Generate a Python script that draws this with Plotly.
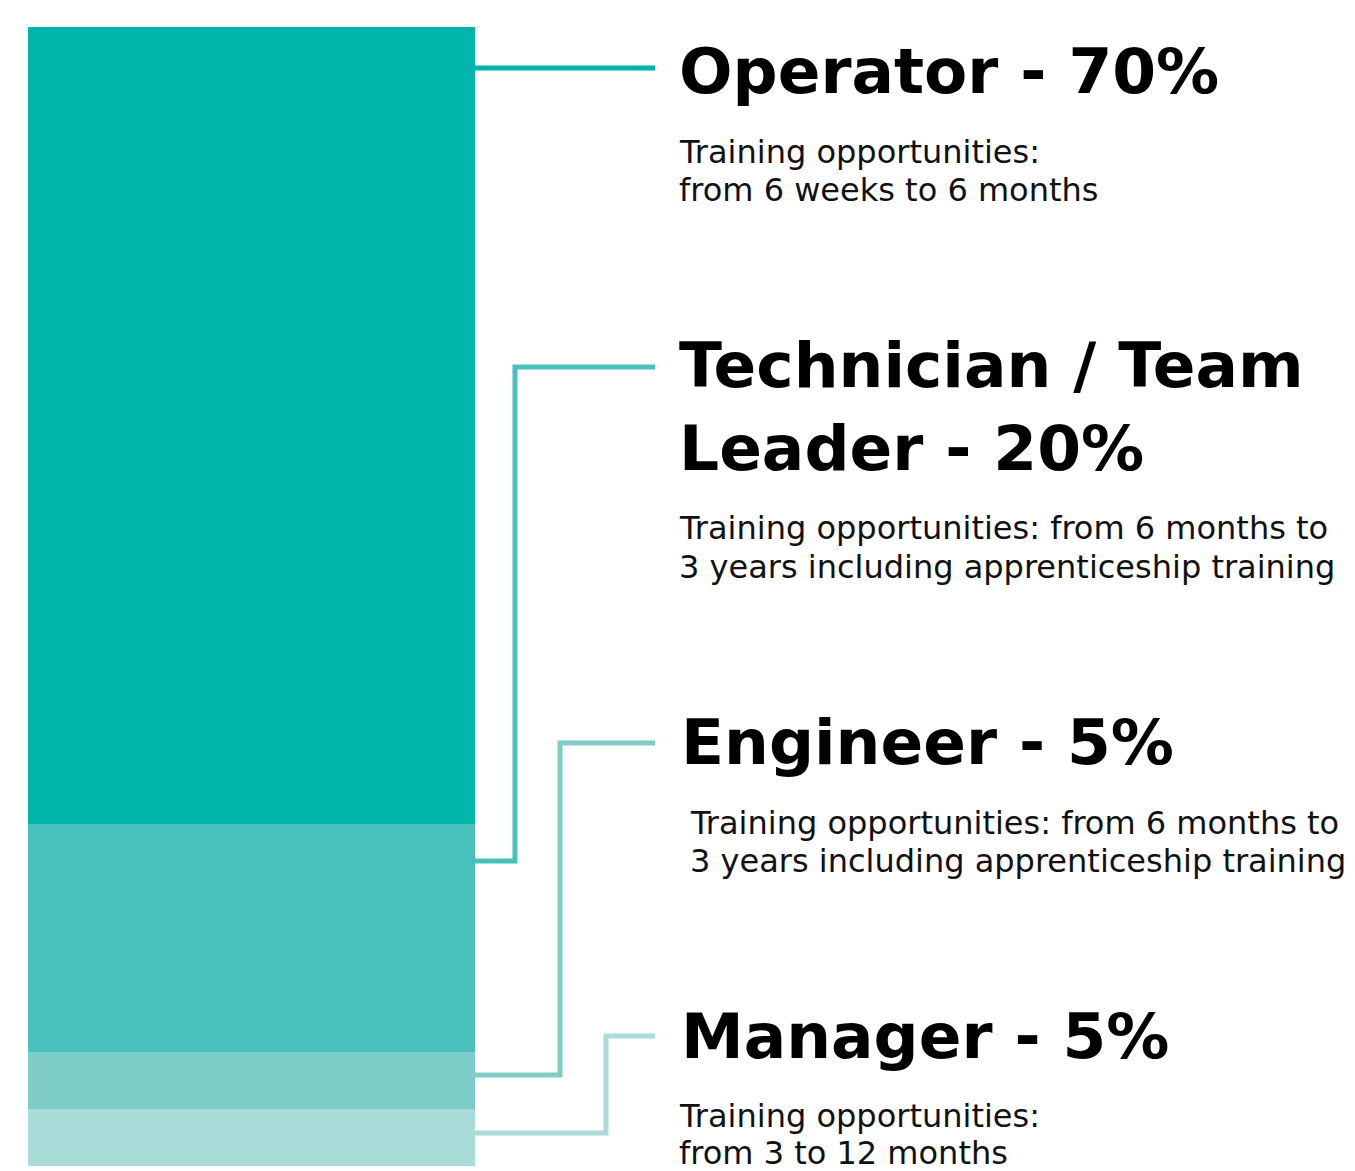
import plotly.graph_objects as go

# ================= data =================
ROLES = ['Operator', 'Technician / Team Leader', 'Engineer', 'Manager']
SHARES = [70, 20, 5, 5]
HEADINGS = [
    ['Operator - 70%'],
    ['Technician / Team', 'Leader - 20%'],
    ['Engineer - 5%'],
    ['Manager - 5%'],
]
DESCRIPTIONS = [
    ['Training opportunities:', 'from 6 weeks to 6 months'],
    ['Training opportunities: from 6 months to', '3 years including apprenticeship training'],
    ['Training opportunities: from 6 months to', '3 years including apprenticeship training'],
    ['Training opportunities:', 'from 3 to 12 months'],
]
COLORS = ['#00B5AC', '#48C1BC', '#7ECDC9', '#AADCD9']

# ================= layout (page pixels) =================
W, H = 1355, 1171
OFF = 8                                    # body margin of the html page
BAR_LEFT, BAR_RIGHT = 28, 475
BAR_TOP, BAR_BOTTOM = 27, 1166
LINE_END = 655
ELBOW_X = [None, 515, 560, 606]           # None -> straight line
ATTACH_PX = [68, 861, 1075, 1133]          # where the connector leaves the bar
LABEL_PX = [68, 367, 743, 1036]            # where it meets the heading
HEAD_X = [677, 677, 679, 679]
HEAD_Y = [[72], [365, 448], [742], [1036]]
DESC_X = [677, 677, 688, 677]
DESC_Y = [[152, 190], [528, 567], [823, 861], [1116, 1153]]

SCALE = (BAR_BOTTOM - BAR_TOP) / sum(SHARES)


def y_val(px):
    # page pixel row -> value on the percentage axis
    return (BAR_BOTTOM - px) / SCALE


def y_paper(px):
    return 1 - (px - OFF) / H


fig = go.Figure()

# stacked bar, bottom segment first
for role, share, color in reversed(list(zip(ROLES, SHARES, COLORS))):
    fig.add_trace(go.Bar(
        x=[(BAR_LEFT + BAR_RIGHT) / 2], y=[share], width=BAR_RIGHT - BAR_LEFT,
        name=role, marker=dict(color=color, line=dict(width=0)),
        hoverinfo='name+y'
    ))

# connectors
for i, color in enumerate(COLORS):
    if ELBOW_X[i] is None:
        xs = [BAR_RIGHT, LINE_END]
        ys = [y_val(ATTACH_PX[i]), y_val(LABEL_PX[i])]
    else:
        xs = [BAR_RIGHT, ELBOW_X[i], ELBOW_X[i], LINE_END]
        ys = [y_val(ATTACH_PX[i]), y_val(ATTACH_PX[i]), y_val(LABEL_PX[i]), y_val(LABEL_PX[i])]
    fig.add_trace(go.Scatter(
        x=xs, y=ys, mode='lines', line=dict(color=color, width=5),
        hoverinfo='skip', showlegend=False, cliponaxis=False
    ))

# text
for i in range(len(ROLES)):
    for txt, py in zip(HEADINGS[i], HEAD_Y[i]):
        fig.add_annotation(
            x=HEAD_X[i], y=y_paper(py), xref='x', yref='paper', text=f'<b>{txt}</b>',
            showarrow=False, xanchor='left', yanchor='middle',
            font=dict(family='DejaVu Sans', size=63, color='#000000')
        )
    for txt, py in zip(DESCRIPTIONS[i], DESC_Y[i]):
        fig.add_annotation(
            x=DESC_X[i], y=y_paper(py), xref='x', yref='paper', text=txt,
            showarrow=False, xanchor='left', yanchor='middle',
            font=dict(family='DejaVu Sans', size=32, color='#111111')
        )

fig.update_layout(
    width=W, height=H, barmode='stack', bargap=0,
    margin=dict(l=0, r=0, t=0, b=0),
    showlegend=False, plot_bgcolor='white', paper_bgcolor='white',
    xaxis=dict(range=[OFF, W + OFF], visible=False, fixedrange=True),
    yaxis=dict(range=[y_val(H + OFF), y_val(OFF)], visible=False, fixedrange=True),
)

fig.write_html('out.html')
